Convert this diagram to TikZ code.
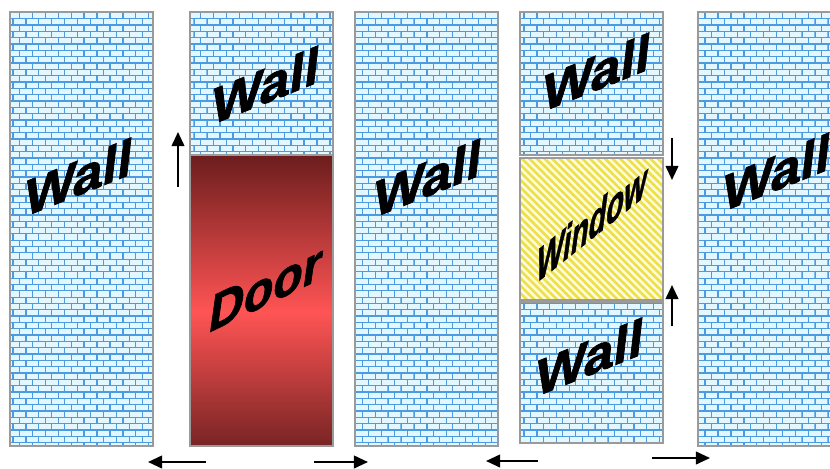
\documentclass[tikz,border=0pt]{standalone}
\usepackage{fontspec}
\setsansfont{Liberation Sans}
\newfontfamily\signfont[BoldFeatures={FakeBold=1.5}]{Liberation Sans}
\usepackage{xcolor}
\usetikzlibrary{arrows.meta,patterns,patterns.meta}

\definecolor{brickbg}{HTML}{E2F7FF}
\definecolor{mortar}{HTML}{4C9BE0}
\definecolor{frame}{HTML}{9A9A9A}
\definecolor{doordark}{HTML}{6C1D1D}
\definecolor{doorred}{HTML}{FF5454}
\definecolor{doorlow}{HTML}{782424}
\definecolor{winbg}{HTML}{FFFDE0}
\definecolor{winstripe}{HTML}{EEE04A}

\pgfdeclarepatternformonly{smallbricks}{\pgfqpoint{-0.5pt}{-0.5pt}}{\pgfqpoint{9.7pt}{9.5pt}}{\pgfqpoint{9.2pt}{9pt}}{
\pgfsetlinewidth{0.9pt}
\pgfpathmoveto{\pgfqpoint{0pt}{0pt}}\pgfpathlineto{\pgfqpoint{9.2pt}{0pt}}
\pgfpathmoveto{\pgfqpoint{0pt}{4.5pt}}\pgfpathlineto{\pgfqpoint{9.2pt}{4.5pt}}
\pgfpathmoveto{\pgfqpoint{0pt}{0pt}}\pgfpathlineto{\pgfqpoint{0pt}{4.5pt}}
\pgfpathmoveto{\pgfqpoint{4.6pt}{4.5pt}}\pgfpathlineto{\pgfqpoint{4.6pt}{9pt}}
\pgfusepath{stroke}}

\pgfdeclareverticalshading{doorshade}{100bp}{color(0bp)=(doorlow); color(25bp)=(doorlow);
 color(48bp)=(doorred); color(75bp)=(doordark); color(100bp)=(doordark)}

\tikzset{
wallpanel/.style={fill=brickbg,postaction={pattern=smallbricks,pattern color=mortar},
  postaction={draw=frame,line width=1pt}},
signtext/.style={font=\signfont\bfseries\fontsize{36}{36}\selectfont,inner sep=0pt},
walltext/.style={signtext,yslant=0.4,xslant=0.12,xscale=1.05},
pushar/.style={->,line width=1.4pt}
}

\begin{document}
\begin{tikzpicture}[x=0.025cm,y=-0.025cm,>={Triangle[length=10pt,width=9pt]}]
\useasboundingbox (0,0) rectangle (830,468);
\begin{scope}
\clip (0,0) rectangle (830,468);
% walls
\path[wallpanel](10,12) rectangle (153,446);
\path[wallpanel](190,12) rectangle (333,155);
\path[wallpanel](355,12) rectangle (498,446);
\path[wallpanel](520,12) rectangle (663,155);
\path[wallpanel](520,302) rectangle (663,443);
\path[wallpanel](698,12) rectangle (850,446);
% door
\path[shading=doorshade](190,155) rectangle (333,446);
\draw[frame,line width=1pt](190,155) rectangle (333,446);
% window
\path[fill=winbg,postaction={pattern={Lines[angle=-45,distance=3.8pt,line width=1.9pt]},pattern color=winstripe}]
(520,158) rectangle (663,300);
\draw[frame,line width=1pt](520,158) rectangle (663,300);
\node[walltext](wallA) at (79,177){Wall};
\node[walltext](wallB) at (266,85){Wall};
\node[walltext](wallC) at (428,178){Wall};
\node[walltext](wallD) at (597,72){Wall};
\node[walltext](wallE) at (590,357){Wall};
\node[walltext](wallF) at (777,172){Wall};
\node[signtext,yslant=0.48,xslant=0.15,xscale=0.95](door) at (266,288){Door};
\node[signtext,font=\signfont\bfseries\fontsize{33}{33}\selectfont,yslant=0.8,xslant=0.15,xscale=0.62](window) at (592,222){Window};
\end{scope}
% push directions
\coordinate (upA) at (178,187);
\coordinate (upB) at (178,132);
\coordinate (dnA) at (672,138);
\coordinate (dnB) at (672,180);
\coordinate (upC) at (672,326);
\coordinate (upD) at (672,285);
\coordinate (lfA) at (206,462);
\coordinate (lfB) at (148,462);
\coordinate (rtA) at (314,462);
\coordinate (rtB) at (368,462);
\coordinate (lfC) at (538,461);
\coordinate (lfD) at (486,461);
\coordinate (rtC) at (652,458);
\coordinate (rtD) at (710,458);
\draw[pushar](upA)--(upB);
\draw[pushar](dnA)--(dnB);
\draw[pushar](upC)--(upD);
\draw[pushar](lfA)--(lfB);
\draw[pushar](rtA)--(rtB);
\draw[pushar](lfC)--(lfD);
\draw[pushar](rtC)--(rtD);
\end{tikzpicture}
\end{document}
